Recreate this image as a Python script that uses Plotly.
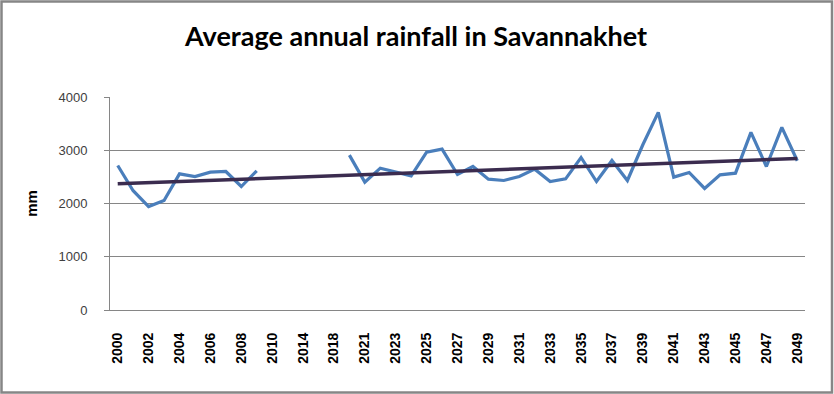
import plotly.graph_objects as go

years = [str(y) for y in range(2000, 2011)] + ["2012", "2014", "2016", "2018"] + [str(y) for y in range(2020, 2050)]

rainfall = [2713, 2240, 1943, 2056, 2557, 2507, 2589, 2601, 2319, 2614, None,
            None, None, None, None,
            2909, 2401, 2664, 2589, 2520, 2965, 3021, 2545, 2695, 2457,
            2432, 2507, 2645, 2413, 2463, 2864, 2413, 2808, 2432, 3103,
            3711, 2495, 2583, 2282, 2539, 2570, 3335, 2695, 3429, 2802]

trend_x = [years[0], years[-1]]
trend_y = [2369, 2846]

tick_labels = years[0:11:2] + ["2014", "2018"] + years[16::2]
y_ticks = [0, 1000, 2000, 3000, 4000]

W, H = 834, 394
ml, mr, mt, mb = 110, 29, 97, 84
pw, ph = W - ml - mr, H - mt - mb

def px_x(p):
    return (p - ml) / pw

def px_y(p):
    return (H - mb - p) / ph

fig = go.Figure()
fig.add_trace(go.Scatter(x=years, y=rainfall, mode="lines", connectgaps=False,
                         line=dict(color="#4A7EBB", width=3.2), showlegend=False))
fig.add_trace(go.Scatter(x=trend_x, y=trend_y, mode="lines",
                         line=dict(color="#3B2C4F", width=3.5), showlegend=False))

fig.update_layout(
    width=W, height=H,
    margin=dict(l=ml, r=mr, t=mt, b=mb),
    paper_bgcolor="white", plot_bgcolor="white",
    title=dict(text="<b>Average annual rainfall in Savannakhet</b>",
               font=dict(family="Lato", size=27, color="#000000"),
               x=416 / W, xanchor="center", xref="container", y=1 - 37 / H, yanchor="middle"),
    xaxis=dict(type="category", categoryorder="array", categoryarray=years,
               range=[-0.5, len(years) - 0.5],
               tickmode="array", tickvals=tick_labels, ticktext=tick_labels,
               tickangle=-90, ticklabelstandoff=16,
               tickfont=dict(family="Liberation Sans", size=14, color="#000000", weight="bold"),
               showgrid=False, showline=True, linecolor="#868686", linewidth=1,
               ticks="", zeroline=False),
    yaxis=dict(range=[0, 4000], tickvals=y_ticks, ticks="outside", ticklen=5,
               tickcolor="#868686", ticklabelstandoff=14,
               tickfont=dict(family="Liberation Sans", size=13, color="#404040"),
               showgrid=True, gridcolor="#868686", gridwidth=1,
               showline=True, linecolor="#868686", linewidth=1, zeroline=False,
               title=dict(text="<b>mm</b>", font=dict(family="Liberation Sans", size=15, color="#000000"),
                          standoff=17)),
    shapes=[dict(type="rect", xref="paper", yref="paper",
                 x0=px_x(1.5), x1=px_x(W - 2),
                 y0=px_y(H - 1.5), y1=px_y(1.5),
                 line=dict(color="#868686", width=2.5), fillcolor="rgba(0,0,0,0)")],
)

fig.write_html("out.html", config={"displayModeBar": False},
               post_script="document.body.style.margin='0';document.body.style.overflow='hidden';")
